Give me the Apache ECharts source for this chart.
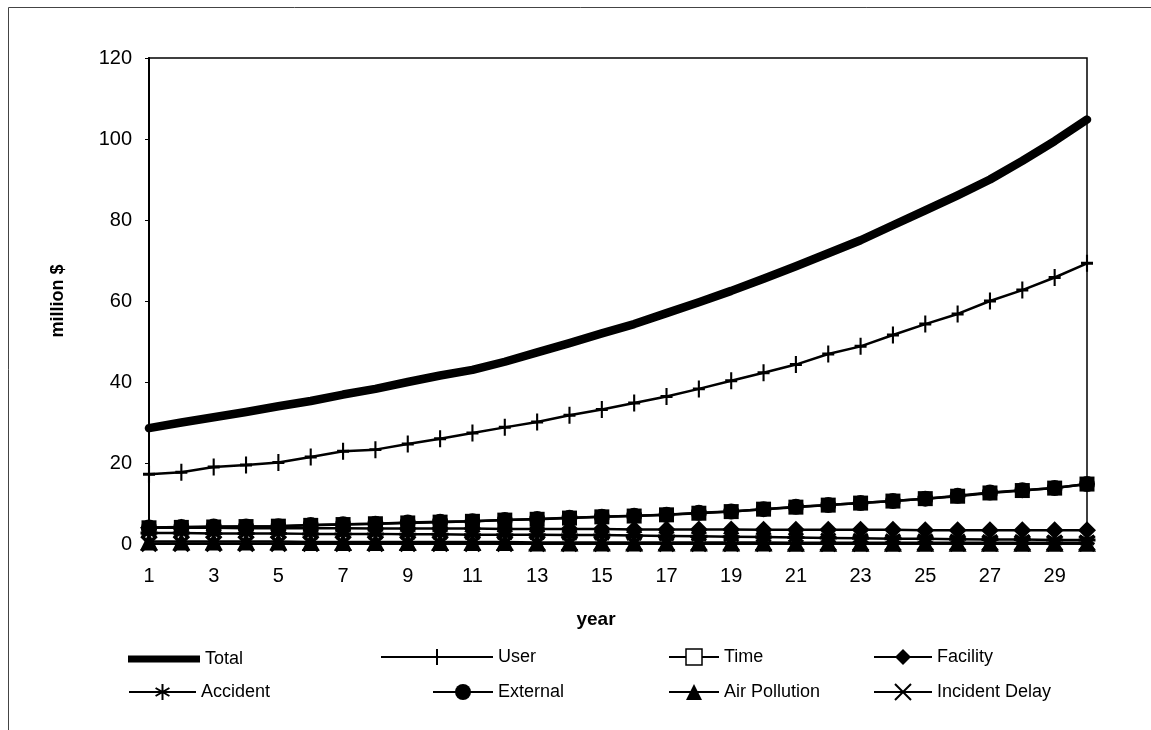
<!DOCTYPE html>
<html>
<head>
<meta charset="utf-8">
<script src="https://cdn.jsdelivr.net/npm/echarts@6/dist/echarts.min.js"></script>
<style>
  html, body { margin: 0; padding: 0; background: #fff; }
  #chart { width: 1151px; height: 730px; }
</style>
</head>
<body>
<div id="chart"></div>
<script>
// Annual costs over the 30-year analysis period, million $
const years = ['1','2','3','4','5','6','7','8','9','10','11','12','13','14','15',
               '16','17','18','19','20','21','22','23','24','25','26','27','28','29','30'];

const total = [28.6, 30.0, 31.3, 32.6, 34.0, 35.3, 36.9, 38.3, 40.0, 41.6,
               43.0, 45.0, 47.3, 49.6, 52.0, 54.3, 57.0, 59.7, 62.5, 65.5,
               68.6, 71.8, 75.0, 78.7, 82.4, 86.1, 90.0, 94.6, 99.5, 104.8];
const user = [17.2, 17.7, 19.0, 19.5, 20.1, 21.5, 22.9, 23.3, 24.7, 26.0,
              27.4, 28.8, 30.1, 31.8, 33.2, 34.8, 36.4, 38.3, 40.3, 42.3,
              44.3, 46.9, 48.8, 51.6, 54.3, 56.8, 60.0, 62.7, 65.8, 69.3];
const time = [4.0, 4.1, 4.2, 4.3, 4.4, 4.6, 4.8, 5.0, 5.2, 5.4,
              5.6, 5.9, 6.1, 6.4, 6.7, 6.9, 7.2, 7.6, 8.0, 8.6,
              9.1, 9.6, 10.1, 10.6, 11.2, 11.8, 12.6, 13.2, 13.8, 14.8];
const facility = [4.0, 4.0, 4.0, 3.9, 3.9, 3.9, 3.9, 3.8, 3.8, 3.8,
                  3.8, 3.7, 3.7, 3.7, 3.7, 3.6, 3.6, 3.6, 3.6, 3.5,
                  3.5, 3.5, 3.5, 3.5, 3.4, 3.4, 3.4, 3.4, 3.4, 3.4];
const accident = [2.7, 2.7, 2.6, 2.6, 2.6, 2.5, 2.5, 2.5, 2.4, 2.4,
                  2.3, 2.3, 2.3, 2.2, 2.2, 2.1, 2.0, 1.9, 1.8, 1.7,
                  1.6, 1.5, 1.4, 1.3, 1.3, 1.2, 1.1, 1.1, 1.0, 1.0];
const external = [4.1, 4.2, 4.3, 4.3, 4.4, 4.7, 4.9, 5.0, 5.3, 5.5,
                  5.6, 5.9, 6.2, 6.5, 6.7, 7.0, 7.2, 7.7, 8.0, 8.6,
                  9.2, 9.6, 10.1, 10.6, 11.2, 11.9, 12.7, 13.3, 13.8, 14.8];
const airPollution = [0.6, 0.6, 0.6, 0.6, 0.6, 0.5, 0.5, 0.5, 0.5, 0.5,
                      0.5, 0.5, 0.4, 0.4, 0.4, 0.4, 0.4, 0.4, 0.4, 0.4,
                      0.3, 0.3, 0.3, 0.3, 0.3, 0.3, 0.3, 0.3, 0.3, 0.3];
const incidentDelay = [0.1, 0.1, 0.1, 0.1, 0.1, 0.1, 0.1, 0.1, 0.1, 0.1,
                       0.1, 0.1, 0.1, 0.1, 0.1, 0.1, 0.1, 0.1, 0.1, 0.1,
                       0.1, 0.1, 0.1, 0.1, 0.2, 0.2, 0.2, 0.2, 0.2, 0.2];

const yTicks = { min: 0, max: 120, step: 20 };

const FONT = '"Liberation Sans", Arial, Helvetica, sans-serif';
const INK = '#000';

// stroked marker outlines
const PLUS = 'path://M0,-10 L0,10 M-7,0 L7,0';
const ASTERISK = 'path://M0,-10 L0,10 M-8.66,-5 L8.66,5 M-8.66,5 L8.66,-5 M-10,0 L10,0';
const CROSS = 'path://M-10,-10 L10,10 M-10,10 L10,-10';

function lineSeries(name, data, symbol, size, stroked, strokeWidth) {
  return {
    name, type: 'line', data, symbol, symbolSize: size,
    symbolKeepAspect: false,
    lineStyle: { color: INK, width: 2.5 },
    itemStyle: stroked
      ? { color: INK, borderColor: INK, borderWidth: strokeWidth || 2.5 }
      : { color: INK, borderWidth: 0 },
    emphasis: { disabled: true },
    animation: false
  };
}

const series = [
  {
    name: 'Total', type: 'line', data: total, symbol: 'none',
    lineStyle: { color: INK, width: 8.5, cap: 'round', join: 'round' },
    itemStyle: { color: INK },
    animation: false
  },
  lineSeries('User', user, PLUS, [12, 17], true, 2.5),
  lineSeries('Time', time, 'rect', 15, false),
  lineSeries('Facility', facility, 'diamond', 18, false),
  lineSeries('Accident', accident, ASTERISK, 17, true, 3),
  lineSeries('External', external, 'circle', 16, false),
  lineSeries('Air Pollution', airPollution, 'triangle', 18, false),
  lineSeries('Incident Delay', incidentDelay, CROSS, 15, true, 3.5)
];

// legend placement: two rows of four
const legendSlots = [
  { name: 'Total',          left: 128, top: 650, w: 72, h: 7, icon: 'rect' },
  { name: 'User',           left: 380, top: 648, w: 112 },
  { name: 'Time',           left: 668, top: 648, w: 50,
    itemStyle: { color: '#fff', borderColor: INK, borderWidth: 1.5 } },
  { name: 'Facility',       left: 873, top: 648, w: 58 },
  { name: 'Accident',       left: 128, top: 683, w: 67 },
  { name: 'External',       left: 432, top: 683, w: 60 },
  { name: 'Air Pollution',  left: 668, top: 683, w: 50 },
  { name: 'Incident Delay', left: 873, top: 683, w: 58 }
];

const legends = legendSlots.map(s => {
  const item = { name: s.name };
  if (s.icon) item.icon = s.icon;
  if (s.itemStyle) item.itemStyle = s.itemStyle;
  return {
    left: s.left, top: s.top, padding: 0, itemGap: 0,
    itemWidth: s.w, itemHeight: s.h || 20,
    selectedMode: false,
    data: [item],
    lineStyle: { width: 2 },
    textStyle: { fontFamily: FONT, fontSize: 18, color: INK }
  };
});

const chart = echarts.init(document.getElementById('chart'), null, { renderer: 'canvas' });
chart.setOption({
  backgroundColor: '#fff',
  animation: false,
  grid: {
    left: 149, top: 58, right: 64, bottom: 186,
    show: true, borderColor: INK, borderWidth: 1.5, backgroundColor: 'transparent'
  },
  xAxis: {
    type: 'category', data: years, boundaryGap: false,
    name: 'year', nameLocation: 'middle', nameGap: 66,
    nameTextStyle: { fontFamily: FONT, fontSize: 19, fontWeight: 'bold', color: INK, padding: [0, 44, 0, 0] },
    axisLine: { show: true, lineStyle: { color: INK, width: 1.5 } },
    axisTick: { show: false },
    axisLabel: { interval: 1, margin: 22, fontFamily: FONT, fontSize: 20, color: INK },
    splitLine: { show: false }
  },
  yAxis: {
    type: 'value', min: yTicks.min, max: yTicks.max, interval: yTicks.step,
    name: 'million $', nameLocation: 'middle', nameGap: 82, nameRotate: 90,
    nameTextStyle: { fontFamily: FONT, fontSize: 18, fontWeight: 'bold', color: INK },
    axisLine: { show: true, lineStyle: { color: INK, width: 2 } },
    axisTick: { show: true, length: 4, lineStyle: { color: INK, width: 1 } },
    axisLabel: { margin: 17, fontFamily: FONT, fontSize: 20, color: INK },
    splitLine: { show: false }
  },
  legend: legends,
  graphic: [
    {
      type: 'rect', silent: true, z: 0,
      shape: { x: 8.5, y: 7.5, width: 1200, height: 800 },
      style: { fill: 'none', stroke: '#444', lineWidth: 1 }
    }
  ],
  series
});
</script>
</body>
</html>
